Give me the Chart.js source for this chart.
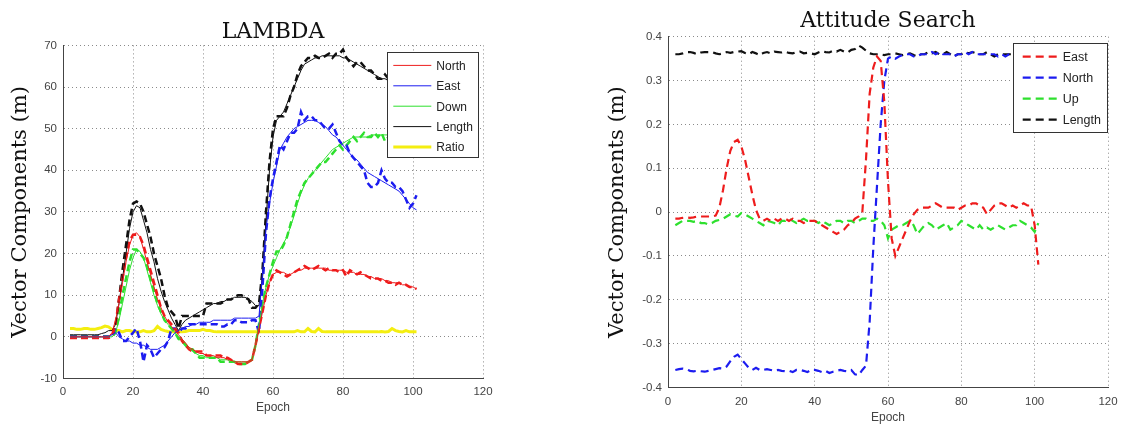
<!DOCTYPE html>
<html>
<head>
<meta charset="utf-8">
<script src="https://cdn.jsdelivr.net/npm/chart.js"></script>
<style>
  html, body { margin: 0; padding: 0; background: #fff; }
  #wrap { position: relative; width: 1122px; height: 429px; overflow: hidden; }
  #lambdaChart { position: absolute; left: 0; top: 0; }
  #attChart { position: absolute; left: 560px; top: 0; }
</style>
</head>
<body>
<div id="wrap">
  <canvas id="lambdaChart" width="560" height="429"></canvas>
  <canvas id="attChart" width="562" height="429"></canvas>
</div>
<script>
// epochs shared by both plots
const epochs = [
    2, 3, 4, 5, 6, 7, 8, 9, 10, 11,
    12, 13, 14, 15, 16, 17, 18, 19, 20, 21,
    22, 23, 24, 25, 26, 27, 28, 29, 30, 31,
    32, 33, 34, 35, 36, 37, 38, 39, 40, 41,
    42, 43, 44, 45, 46, 47, 48, 49, 50, 51,
    52, 53, 54, 55, 56, 57, 58, 59, 60, 61,
    62, 63, 64, 65, 66, 67, 68, 69, 70, 71,
    72, 73, 74, 75, 76, 77, 78, 79, 80, 81,
    82, 83, 84, 85, 86, 87, 88, 89, 90, 91,
    92, 93, 94, 95, 96, 97, 98, 99, 100, 101
];

// LAMBDA - thin solid lines
const northSolid = [
    0, 0, 0, 0, 0, 0, 0, 0, 0, 0,
    0, 0, 1, 4, 8, 13, 18, 22, 24.5, 25,
    24, 21, 18, 15, 12, 9, 7, 5, 3.5, 2.5,
    1.5, 0.5, -0.5, -1.5, -2.5, -3, -3.5, -4, -4, -4.5,
    -4.5, -4.5, -5, -5, -5, -5.5, -5.5, -6, -6, -6,
    -6, -6, -5.5, -2, 2, 6, 10, 13, 15, 15.5,
    15.5, 15.5, 15, 15, 15.5, 16, 16, 16.5, 16.5, 16.5,
    16.5, 16.5, 16.5, 16.5, 16, 16, 16, 16, 16, 15.5,
    15.5, 15.5, 15, 15, 15, 14.5, 14.5, 14, 14, 14,
    13.5, 13.5, 13, 13, 13, 12.5, 12.5, 12, 12, 11.5
];
const eastSolid = [
    0, 0, 0, 0, 0, 0, 0, 0, 0, 0,
    0, 0, 0.5, 1, 0, -0.5, -1, -1, -1.5, -1.5,
    -2, -2, -2.5, -3, -3, -3, -2.5, -2, -1, 0,
    1, 1.5, 2, 2.5, 2.5, 3, 3, 3.5, 3.5, 3.5,
    3.5, 4, 4, 4, 4, 4, 4, 4.5, 4.5, 4.5,
    4.5, 4.5, 4.5, 4.5, 5, 15, 26, 32, 37, 41,
    45, 46.5, 48, 49, 50, 50.5, 51, 51.5, 52, 52,
    52, 51.5, 51, 50.5, 49.5, 48.5, 48, 47, 46, 45,
    44, 43, 42.5, 41.5, 40.5, 39.5, 39, 38.5, 38, 37.5,
    37, 36.5, 36, 35.5, 35, 34, 33, 32, 31, 30.5
];
const downSolid = [
    0, 0, 0, 0, 0, 0, 0, 0, 0, 0,
    0, 0, 0, 1, 4, 8, 12, 16, 19, 21,
    20.5, 19, 16, 13, 10, 7.5, 5.5, 4, 3, 2,
    1, 0, -0.5, -1.5, -2.5, -3.5, -4, -4.5, -4.5, -5,
    -5, -5, -5, -5.5, -5.5, -5.5, -6, -6, -6, -6,
    -6, -6, -5.5, -2, 3, 8, 12, 15, 17, 19,
    21, 22.5, 24, 26.5, 29, 32, 34.5, 36.5, 38, 39,
    40, 41, 42, 43, 44, 45, 45.5, 46, 46.5, 47,
    47.5, 48, 48, 48, 48, 48, 48.5, 48.5, 48.5, 48.5,
    48.5, 48.5, 48.5, 48.5, 48.5, 48.5, 48.5, 48.5, 48.5, 48.5
];
const lengthSolid = [
    0.5, 0.5, 0.5, 0.5, 0.5, 0.5, 0.5, 0.5, 0.5, 0.8,
    1, 1.5, 1.5, 3, 8, 14, 20, 26, 30, 31.5,
    31, 28, 25, 21, 18, 14, 11, 8.5, 6.5, 4.5,
    3, 1.5, 3, 4, 4.5, 5, 5.5, 6, 6.5, 7,
    7.5, 8, 8, 8.5, 8.5, 9, 9, 9.5, 9.5, 9.5,
    9.5, 9, 8.5, 7.5, 7.5, 15, 28, 40, 48, 52,
    53, 54, 56, 58, 60, 62, 64, 65.5, 66, 66.5,
    67, 67, 67.5, 67.5, 67.5, 67.5, 67.5, 67.5, 67, 67,
    66.5, 66, 65.5, 65, 64.5, 64, 63.5, 63, 62.5, 62,
    62, 61.5, 61, 61, 60.5, 60.5, 60, 60, 59.5, 59.5
];
const ratio = [
    2, 2, 1.8, 1.8, 2, 2, 1.8, 1.8, 2, 2.2,
    2.6, 2.4, 1.8, 1.5, 1.5, 1.2, 1.5, 1.5, 1.2, 1.2,
    1.2, 1.5, 1.2, 1.2, 1.5, 2.5, 1.8, 1.5, 1.3, 1.2,
    1.2, 1.2, 1.2, 1.3, 1.5, 1.5, 1.5, 1.5, 1.8, 1.5,
    1.5, 1.3, 1.2, 1.2, 1.2, 1.2, 1.2, 1.2, 1.2, 1.2,
    1.2, 1.2, 1.2, 1.2, 1.2, 1.2, 1.2, 1.2, 1.2, 1.2,
    1.2, 1.2, 1.2, 1.2, 1.2, 1.5, 1.2, 1.2, 2, 1.3,
    1.2, 2, 1.3, 1.2, 1.2, 1.2, 1.2, 1.2, 1.2, 1.2,
    1.2, 1.2, 1.2, 1.2, 1.2, 1.2, 1.2, 1.2, 1.2, 1.3,
    1.2, 1.3, 2, 1.5, 1.3, 1.2, 1.5, 1.2, 1.2, 1.2
];

// LAMBDA - thick dashed lines
const northDash = [
    -0.3, -0.3, -0.3, -0.3, -0.3, -0.3, -0.3, -0.3, -0.3, -0.3,
    -0.3, -0.3, 0, 3, 9, 14, 19, 23, 24.5, 24.5,
    24, 22, 19, 16, 13, 10, 7, 5, 4, 3,
    2, 1, -1, -2, -3, -3.5, -3.5, -3.5, -3.5, -4.5,
    -4.5, -4.5, -4.5, -4.5, -5, -5, -5.5, -6, -6.5, -6.5,
    -6.5, -6, -5.5, -2, 2, 6, 10, 13, 15, 16,
    15.5, 15, 14.5, 15, 15.5, 16, 16.5, 17, 16.5, 16,
    16.5, 17, 16.5, 16, 16.5, 16, 16, 15.5, 16, 14.5,
    16, 15.5, 15, 15.5, 15, 14.5, 14, 14, 14, 13.5,
    13.5, 13, 13, 12.5, 13, 12.5, 12.5, 12, 12, 11.5
];
const eastDash = [
    0, 0, 0, 0, 0, 0, 0, 0, 0, 0,
    0, 0, 0, 2, 1, -1, -1, 0, 1, 2,
    -1, -6, -2, -3, -5, -4, -3, -2.5, -1, 2,
    2, 1, 2, 2, 3, 3, 3, 3, 3, 3,
    3, 3, 3, 2.5, 2.5, 3, 3, 4, 4, 3.5,
    3.5, 3.5, 4, 4, 1, 12, 25, 33, 38, 42,
    46, 45, 47, 49, 49, 50, 54, 52, 53, 53,
    52, 52, 51, 50, 50, 51, 49, 47, 46, 46,
    44, 43, 42, 41, 40, 37, 36, 36, 37, 40,
    38, 37, 37, 36, 36, 35, 33, 31, 32, 34
];
const downDash = [
    0, 0, 0, 0, 0, 0, 0, 0, 0, 0,
    0, 0, 0, 1, 5, 10, 14, 18, 21, 21,
    20, 19, 17, 14, 11, 8, 6, 4, 3, 2,
    1, -0.5, -1, -2, -3, -3, -4, -5, -5, -5,
    -5, -5, -5, -6, -6, -6, -6, -6, -6.5, -6.5,
    -6.5, -6, -5.5, -2, 3, 8, 12, 15, 18, 20.5,
    20.5, 22, 24, 27, 30, 33, 35, 37, 38, 39,
    40, 41, 42, 42, 43, 44, 45, 46, 45, 46,
    47, 48, 47, 48, 49, 48, 48, 49, 48, 49,
    47, 48, 48, 48, 48, 48, 48, 48, 48, 48
];
const lengthDash = [
    0, 0, 0, 0, 0, 0, 0, 0, 0, 0,
    0, 0, 0, 2, 9, 16, 22, 28, 32, 32.5,
    32, 30, 27, 24, 20, 17, 14, 10, 7, 6,
    5, 2, 5, 5, 5, 5, 5, 5, 5, 8,
    8, 8, 8, 8, 8.5, 9, 9, 9.5, 10, 10,
    9.5, 9, 7, 7, 8, 16, 30, 42, 50, 53,
    53, 53, 55, 58, 60, 63, 65, 66, 67, 67,
    67.5, 67, 67, 67.5, 68, 67, 68, 68, 69, 67,
    66, 65, 66, 66, 65, 64, 64, 63, 62, 62,
    63, 62, 62, 61, 61, 61, 60, 60, 60, 60
];

// Attitude Search
const attEast = [
    -0.015, -0.015, -0.013, -0.012, -0.013, -0.012, -0.01, -0.01, -0.01, -0.01,
    -0.01, -0.008, 0.01, 0.05, 0.1, 0.14, 0.16, 0.165, 0.15, 0.12,
    0.08, 0.04, 0.005, -0.015, -0.02, -0.015, -0.02, -0.015, -0.02, -0.015,
    -0.015, -0.02, -0.015, -0.02, -0.02, -0.025, -0.02, -0.02, -0.02, -0.025,
    -0.03, -0.035, -0.04, -0.045, -0.05, -0.045, -0.04, -0.03, -0.025, -0.015,
    -0.01, 0, 0.12, 0.27, 0.33, 0.355, 0.345, 0.25, 0.07, -0.06,
    -0.1, -0.08, -0.06, -0.04, -0.02, -0.005, 0.005, 0.01, 0.01, 0.01,
    0.015, 0.02, 0.015, 0.01, 0.01, 0.01, 0.01, 0.005, 0.01, 0.015,
    0.015, 0.02, 0.02, 0.015, 0.01, -0.005, 0.005, 0.015, 0.02, 0.02,
    0.015, 0.01, 0.015, 0.01, 0.015, 0.02, 0.015, 0.015, -0.03, -0.12
];
const attNorth = [
    -0.36, -0.358, -0.357, -0.358, -0.362, -0.363, -0.362, -0.363, -0.364, -0.362,
    -0.36, -0.358, -0.356, -0.357, -0.352, -0.34, -0.33, -0.325, -0.335, -0.345,
    -0.355, -0.36, -0.355, -0.36, -0.36, -0.358, -0.36, -0.362, -0.36, -0.362,
    -0.363, -0.362, -0.365, -0.36, -0.36, -0.362, -0.365, -0.36, -0.36, -0.362,
    -0.365, -0.362, -0.367, -0.364, -0.362, -0.36, -0.362, -0.363, -0.36, -0.37,
    -0.372, -0.36, -0.35, -0.25, -0.08, 0.06, 0.2, 0.3, 0.35, 0.355,
    0.35, 0.355, 0.358, 0.36, 0.36, 0.355, 0.355, 0.36, 0.36, 0.36,
    0.365, 0.36, 0.365, 0.36, 0.36, 0.36, 0.355, 0.36, 0.36, 0.365,
    0.36, 0.365, 0.36, 0.36, 0.36, 0.36, 0.36, 0.36, 0.355, 0.36,
    0.355, 0.36, 0.36, 0.36, 0.36, 0.36, 0.36, 0.36, 0.36, 0.36
];
const attUp = [
    -0.03, -0.025, -0.02, -0.02, -0.02, -0.022, -0.02, -0.025, -0.025, -0.028,
    -0.025, -0.02, -0.018, -0.015, -0.01, -0.005, -0.008, -0.01, -0.002, -0.005,
    -0.01, -0.015, -0.02, -0.025, -0.03, -0.02, -0.022, -0.025, -0.03, -0.02,
    -0.02, -0.015, -0.02, -0.025, -0.02, -0.015, -0.02, -0.02, -0.02, -0.025,
    -0.02, -0.025, -0.03, -0.025, -0.02, -0.02, -0.025, -0.02, -0.02, -0.025,
    -0.02, -0.015, -0.015, -0.02, -0.02, -0.015, -0.02, -0.03, -0.06, -0.04,
    -0.035, -0.03, -0.03, -0.025, -0.02, -0.03, -0.05, -0.04, -0.03, -0.025,
    -0.03, -0.04, -0.035, -0.03, -0.025, -0.04, -0.035, -0.03, -0.02, -0.025,
    -0.03, -0.035, -0.04, -0.03, -0.04, -0.035, -0.04, -0.035, -0.03, -0.035,
    -0.04, -0.035, -0.03, -0.03, -0.02, -0.025, -0.03, -0.035, -0.045, -0.025
];
const attLength = [
    0.36, 0.36, 0.362, 0.365, 0.365, 0.363, 0.36, 0.364, 0.365, 0.365,
    0.365, 0.362, 0.36, 0.362, 0.365, 0.363, 0.365, 0.366, 0.367, 0.363,
    0.36, 0.365, 0.362, 0.358, 0.363, 0.365, 0.362, 0.366, 0.365, 0.364,
    0.366, 0.363, 0.362, 0.365, 0.366, 0.362, 0.363, 0.362, 0.36, 0.364,
    0.367, 0.365, 0.364, 0.368, 0.366, 0.37, 0.366, 0.364, 0.37, 0.372,
    0.38, 0.375, 0.368, 0.362, 0.36, 0.36, 0.36, 0.358, 0.36, 0.36,
    0.362, 0.36, 0.358, 0.36, 0.362, 0.358, 0.355, 0.36, 0.36, 0.365,
    0.362, 0.365, 0.36, 0.36, 0.365, 0.36, 0.355, 0.36, 0.36, 0.365,
    0.362, 0.365, 0.362, 0.36, 0.36, 0.365, 0.36, 0.355, 0.36, 0.36,
    0.36, 0.36, 0.36, 0.36, 0.36, 0.36, 0.36, 0.36, 0.36, 0.36
];

const RED = "#ee1c1c", BLUE = "#1c1cf0", GREEN = "#2ee02e", BLACK = "#111", YELLOW = "#f4ee10";

function pts(vals) {
    return epochs.map(function (e, i) { return { x: e, y: vals[i] }; });
}

// legend box drawn inside the plot area, on top of the lines
const boxLegend = {
    id: "boxLegend",
    afterDatasetsDraw: function (chart, args, o) {
        const ctx = chart.ctx, area = chart.chartArea;
        const x = area.right - o.right - o.width, y = area.top + o.top;
        ctx.save();
        ctx.fillStyle = "#fff";
        ctx.fillRect(x, y, o.width, o.height);
        ctx.strokeStyle = "#333";
        ctx.lineWidth = 1;
        ctx.strokeRect(Math.round(x) + 0.5, Math.round(y) + 0.5, o.width, o.height);
        const items = chart.data.datasets.filter(function (d) { return d.inLegend; });
        items.forEach(function (d, i) {
            const ly = y + o.first + i * o.gap;
            ctx.beginPath();
            ctx.setLineDash(d.borderDash || []);
            ctx.strokeStyle = d.borderColor;
            ctx.lineWidth = d.borderWidth;
            ctx.moveTo(x + o.lineX, ly);
            ctx.lineTo(x + o.lineX + o.lineLen, ly);
            ctx.stroke();
            ctx.setLineDash([]);
            ctx.fillStyle = "#222";
            ctx.font = o.fontSize + "px 'Liberation Sans', Arial, sans-serif";
            ctx.textBaseline = "middle";
            ctx.fillText(d.label, x + o.textX, ly + 1);
        });
        ctx.restore();
    }
};

function axisOpts(min, max, step, titleOpts, tickPad, fit) {
    return {
        type: "linear",
        min: min,
        max: max,
        afterFit: fit,
        ticks: {
            stepSize: step,
            color: "#444",
            padding: tickPad,
            font: { family: "'Liberation Sans', Arial, sans-serif", size: 11.5 },
        },
        grid: { color: "#8a8a8a", lineWidth: 1, drawTicks: false },
        border: { display: true, color: "#444", width: 1, dash: [1, 3] },
        title: titleOpts,
    };
}

// fixed axis sizes so the plot area lands where the reference has it
function fitX(h) {
    return function (s) { s.height = h; s.paddingLeft = 0; s.paddingRight = 0; };
}
function fitY(w) {
    return function (s) { s.width = w; s.paddingTop = 0; s.paddingBottom = 0; };
}

function drawCharts() {
    const thin = function (label, vals, color) {
        return { label: label, data: pts(vals), borderColor: color, borderWidth: 1, inLegend: true, order: 1 };
    };
    const dash = function (vals, color) {
        return { label: "", data: pts(vals), borderColor: color, borderWidth: 2.5, borderDash: [7, 4], order: 2 };
    };
    new Chart(document.getElementById("lambdaChart").getContext("2d"), {
        type: "line",
        data: {
            datasets: [
                thin("North", northSolid, RED),
                thin("East", eastSolid, BLUE),
                thin("Down", downSolid, GREEN),
                thin("Length", lengthSolid, BLACK),
                { label: "Ratio", data: pts(ratio), borderColor: YELLOW, borderWidth: 3, inLegend: true, order: 3 },
                dash(northDash, RED),
                dash(eastDash, BLUE),
                dash(downDash, GREEN),
                dash(lengthDash, BLACK),
            ],
        },
        options: {
            responsive: false,
            animation: false,
            elements: { point: { radius: 0 }, line: { tension: 0, fill: false } },
            layout: { padding: { left: 0, right: 77, top: 0, bottom: 0 } },
            plugins: {
                legend: { display: false },
                tooltip: { enabled: false },
                title: {
                    display: true,
                    fullSize: false,
                    text: "LAMBDA",
                    color: "#111",
                    font: { family: "'DejaVu Serif', serif", size: 22, weight: "normal" },
                    padding: { top: 19, bottom: 0 },
                },
                boxLegend: {
                    right: 4.7, top: 6.7, width: 91, height: 105,
                    first: 13.3, gap: 20.4, lineX: 6, lineLen: 38, textX: 49, fontSize: 12,
                },
            },
            scales: {
                x: axisOpts(0, 120, 20, {
                    display: true, text: "Epoch", color: "#444",
                    font: { family: "'Liberation Sans', Arial, sans-serif", size: 12 },
                    padding: { top: 0, bottom: 14 },
                }, 6, fitX(50.5)),
                y: axisOpts(-10, 70, 10, {
                    display: true, text: "Vector Components (m)", color: "#111",
                    font: { family: "'DejaVu Serif', serif", size: 21 },
                    padding: { top: 7.5, bottom: 0 },
                }, 6, fitY(63)),
            },
        },
        plugins: [boxLegend],
    });

    const line = function (label, vals, color) {
        return { label: label, data: pts(vals), borderColor: color, borderWidth: 2.2, borderDash: [8, 5], inLegend: true };
    };
    new Chart(document.getElementById("attChart").getContext("2d"), {
        type: "line",
        data: {
            datasets: [
                line("East", attEast, RED),
                line("North", attNorth, BLUE),
                line("Up", attUp, GREEN),
                line("Length", attLength, BLACK),
            ],
        },
        options: {
            responsive: false,
            animation: false,
            elements: { point: { radius: 0 }, line: { tension: 0, fill: false } },
            layout: { padding: { left: 40, right: 14, top: 0, bottom: 0 } },
            plugins: {
                legend: { display: false },
                tooltip: { enabled: false },
                title: {
                    display: true,
                    fullSize: false,
                    text: "Attitude Search",
                    color: "#111",
                    font: { family: "'DejaVu Serif', serif", size: 22, weight: "normal" },
                    padding: { top: 8.5, bottom: 1.8 },
                },
                boxLegend: {
                    right: 1.3, top: 6, width: 94, height: 89,
                    first: 14, gap: 21, lineX: 10, lineLen: 36, textX: 50, fontSize: 12.5,
                },
            },
            scales: {
                x: axisOpts(0, 120, 20, {
                    display: true, text: "Epoch", color: "#444",
                    font: { family: "'Liberation Sans', Arial, sans-serif", size: 12 },
                    padding: { top: 0, bottom: 4 },
                }, 7, fitX(41.5)),
                y: axisOpts(-0.4, 0.4, 0.1, {
                    display: true, text: "Vector Components (m)", color: "#111",
                    font: { family: "'DejaVu Serif', serif", size: 21 },
                    padding: { top: 4.5, bottom: 0 },
                }, 6, fitY(68)),
            },
        },
        plugins: [boxLegend],
    });
}

drawCharts();
</script>
</body>
</html>
